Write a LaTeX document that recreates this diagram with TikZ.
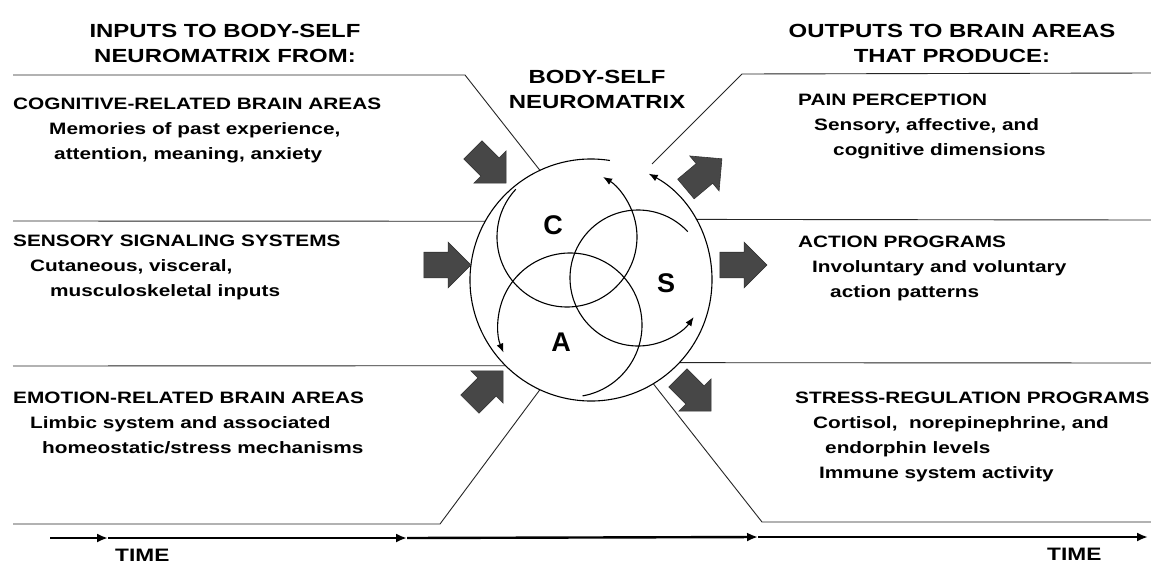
\documentclass[tikz,border=0pt]{standalone}
\usepackage{fontspec}
\setmainfont{Liberation Sans}[FakeStretch=1.26]
\newfontfamily\letterfont{Liberation Sans}
\usetikzlibrary{arrows.meta,shapes.arrows}
\tikzset{
  divline/.style={line width=0.9pt, black!85},
  circline/.style={line width=1.1pt},
  smalltip/.style={-{Latex[length=9pt,width=7pt]}},
  timeline/.style={line width=2.4pt, -{Latex[length=11pt,width=9pt]}},
  head/.style={font=\bfseries\fontsize{19}{25}\selectfont, align=center, inner sep=0pt, anchor=base},
  cat/.style={font=\bfseries\fontsize{16.5}{25}\selectfont, align=left, inner sep=0pt, anchor=base west},
  letter/.style={font=\letterfont\bfseries\fontsize{27}{27}\selectfont, inner sep=0pt},
  blockarr/.style={single arrow, fill=black!72, draw=black!80, line width=0.6pt,
    minimum height=47pt, inner sep=0pt, inner ysep=12.5pt,
    single arrow head extend=10pt, single arrow tip angle=90}
}
\begin{document}
\begin{tikzpicture}[x=1pt,y=1pt]
\fill[white] (0,0) rectangle (1151,-563);
\useasboundingbox (0,0) rectangle (1151,-563);

% headings (anchored at the baseline of the last line)
\node[head] (hin) at (225,-62) {INPUTS TO BODY-SELF\\NEUROMATRIX FROM:};
\node[head] (hmid) at (597,-108) {BODY-SELF\\NEUROMATRIX};
\node[head] (hout) at (952,-62) {OUTPUTS TO BRAIN AREAS\\THAT PRODUCE:};

% left texts
\node[cat] (tcog) at (13,-159) {COGNITIVE-RELATED BRAIN AREAS\\\hspace*{36pt}Memories of past experience,\\\hspace*{41pt}attention, meaning, anxiety};
\node[cat] (tsen) at (13,-296) {SENSORY SIGNALING SYSTEMS\\\hspace*{17pt}Cutaneous, visceral,\\\hspace*{37pt}musculoskeletal inputs};
\node[cat] (temo) at (13,-453) {EMOTION-RELATED BRAIN AREAS\\\hspace*{17pt}Limbic system and associated\\\hspace*{29pt}homeostatic/stress mechanisms};

% right texts
\node[cat] (tpain) at (798,-155) {PAIN PERCEPTION\\\hspace*{16pt}Sensory, affective, and\\\hspace*{35pt}cognitive dimensions};
\node[cat] (tact) at (798,-297) {ACTION PROGRAMS\\\hspace*{14pt}Involuntary and voluntary\\\hspace*{32pt}action patterns};
\node[cat] (tstr) at (795,-478) {STRESS-REGULATION PROGRAMS\\\hspace*{18pt}Cortisol,\ \ norepinephrine, and\\\hspace*{30pt}endorphin levels\\\hspace*{24pt}Immune system activity};

% big circle anchor node
\node[circle, minimum size=242pt, inner sep=0pt] (big) at (591,-280) {};

% dividing lines
\coordinate (l1a) at (13,-75);   \coordinate (l1b) at (465,-75);
\coordinate (l2a) at (13,-221);
\coordinate (l3a) at (13,-366);
\coordinate (l4a) at (13,-524);  \coordinate (l4b) at (440,-524);
\coordinate (r1a) at (1151,-73); \coordinate (r1b) at (742,-74); \coordinate (r1e) at (652,-164);
\coordinate (r2a) at (1151,-220);
\coordinate (r3a) at (1151,-363);
\coordinate (r4a) at (1151,-522); \coordinate (r4b) at (762,-522);
\draw[divline] (l1a) -- (l1b) -- (big.115);
\draw[divline] (l2a) -- (big.151);
\draw[divline] (l3a) -- (big.225);
\draw[divline] (l4a) -- (l4b) -- (big.245);
\draw[divline] (r1a) -- (r1b) -- (r1e);
\draw[divline] (r2a) -- (big.30);
\draw[divline] (r3a) -- (big.-43);
\draw[divline] (r4a) -- (r4b) -- (big.-59);

% circular arrows
\coordinate (cC) at (567,-237);
\coordinate (cS) at (638,-278);
\coordinate (cA) at (570,-325);
\draw[circline, smalltip] ([shift={(81:121pt)}]big.center) arc[start angle=81, end angle=421.5, radius=121pt];
\draw[circline, smalltip] ([shift={(137:70pt)}]cC) arc[start angle=137, end angle=419, radius=70pt];
\draw[circline, smalltip] ([shift={(43:68pt)}]cS) arc[start angle=43, end angle=325, radius=68pt];
\draw[circline, smalltip] ([shift={(-80:72pt)}]cA) arc[start angle=-80, end angle=202.5, radius=72pt];

\node[letter] (lC) at (553,-225) {C};
\node[letter] (lS) at (666,-283) {S};
\node[letter] (lA) at (561,-342) {A};

% block arrows
\node[blockarr, rotate=-45] (in1) at (485,-162) {};
\node[blockarr] (in2) at (441,-265) {};
\node[blockarr, rotate=45] (in3) at (482,-392) {};
\node[blockarr, rotate=40] (out1) at (699,-178) {};
\node[blockarr] (out2) at (737,-265) {};
\node[blockarr, rotate=-45] (out3) at (690,-390) {};

% time axis
\coordinate (t0) at (50,-538);
\coordinate (t1) at (108,-538);
\coordinate (t2) at (407,-538);
\coordinate (t3) at (758,-537);
\coordinate (t4) at (1148,-537);
\draw[timeline] (t0) -- (t1);
\draw[timeline] (t1) -- (t2);
\draw[timeline] (t2) -- (t3);
\draw[timeline] (t3) -- (t4);
\node[font=\bfseries\fontsize{18}{18}\selectfont, inner sep=0pt, anchor=base west] (time1) at (115,-561) {TIME};
\node[font=\bfseries\fontsize{18}{18}\selectfont, inner sep=0pt, anchor=base west] (time2) at (1047,-560) {TIME};
\end{tikzpicture}
\end{document}
